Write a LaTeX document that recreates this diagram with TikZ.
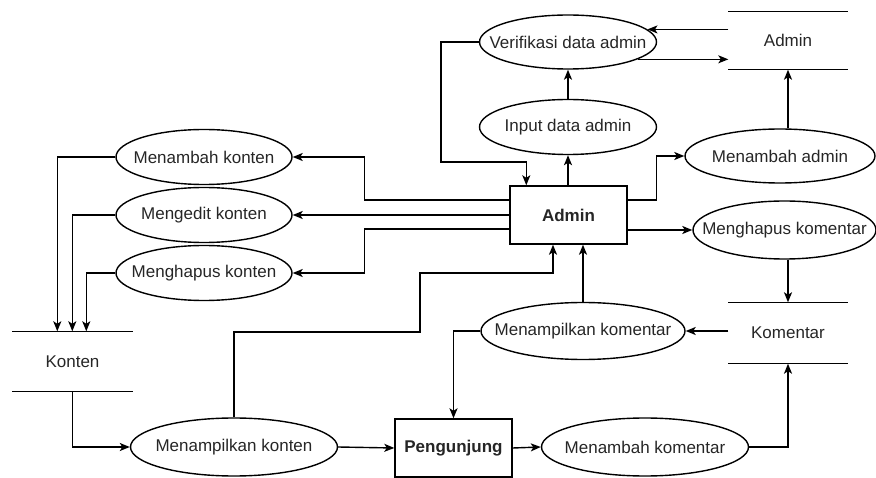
\documentclass[tikz,border=0pt]{standalone}
\usepackage{fontspec}
\setmainfont{Liberation Sans}
\usetikzlibrary{shapes.geometric,arrows.meta,calc}
\begin{document}
\begin{tikzpicture}[x=1pt,y=-1pt,
  line width=1.4pt,
  every node/.style={font=\fontsize{17}{20}\selectfont, text=black!85},
  proc/.style={ellipse, draw, inner xsep=-45pt, inner ysep=-12pt, minimum height=56pt},
  entity/.style={rectangle, draw, inner sep=0pt, minimum width=117pt, minimum height=58pt, font=\fontsize{17}{20}\selectfont\bfseries},
  store/.style={inner sep=0pt, minimum width=118pt},
  arr/.style={-{Stealth[length=10pt,width=8pt,inset=2.5pt]}}
]
\useasboundingbox (0,0) rectangle (876,478);

% external entities
\node[entity] (adm) at (568.5,215) {Admin};
\node[entity, minimum width=117pt] (pg) at (453.5,448) {Pengunjung};

% processes
\node[proc, minimum width=177pt, minimum height=54pt] (va) at (568,42) {Verifikasi data admin};
\node[proc, minimum width=177pt, minimum height=55pt] (ida) at (568,127) {Input data admin};
\node[proc, minimum width=190pt, minimum height=54pt] (ma) at (780,156) {Menambah admin};
\node[proc, minimum width=183pt, minimum height=58pt] (hk) at (784.5,230) {Menghapus komentar};
\node[proc, minimum width=204pt, minimum height=57pt] (mk) at (583,331) {Menampilkan komentar};
\node[proc, minimum width=176pt, minimum height=55pt] (mkt) at (204,157) {Menambah konten};
\node[proc, minimum width=176pt, minimum height=55pt] (med) at (204,215) {Mengedit konten};
\node[proc, minimum width=176pt, minimum height=55pt] (mhk) at (204,273) {Menghapus konten};
\node[proc, minimum width=207pt, minimum height=58pt] (mkon) at (234,447) {Menampilkan konten};
\node[proc, minimum width=207pt, minimum height=58pt] (mkm) at (645,447) {Menambah komentar};

% data stores
\node[store, minimum height=57pt] (sa) at (788,40.5) {Admin};
\node[store, minimum height=60pt] (sk) at (788,333) {Komentar};
\node[store, minimum height=59pt, minimum width=119pt] (kon) at (72.5,361.5) {Konten};
\foreach \s in {sa,sk,kon}{
  \draw (\s.north west) -- (\s.north east);
  \draw (\s.south west) -- (\s.south east);
}

% admin data flows
\draw[arr] (sa.west |- va.9.5) -- (va.9.5);
\draw[arr] (va.-14) -- (sa.west |- va.-14);
\draw[arr] (ida.north) -- (va.south);
\draw[arr] (adm.north -| ida.south) -- (ida.south);
\draw[arr] (va.west) -| (441,162) -| ($(adm.north west)+(17,0)$);
\draw[arr] ($(adm.east)+(0,-15)$) -| ($(ma.west)+(-28,0)$) -- (ma.west);
\draw[arr] (sa.south |- ma.north) -- (sa.south);
\draw[arr] ($(adm.east)+(0,15)$) -- (hk.west);
\draw[arr] (hk.south -| sk.north) -- (sk.north);

% content flows
\draw[arr] ($(adm.west)+(0,-15)$) -| ($(mkt.east)+(72,0)$) -- (mkt.east);
\draw[arr] (adm.west) -- (med.east);
\draw[arr] ($(adm.west)+(0,14)$) -| ($(mhk.east)+(72,0)$) -- (mhk.east);
\draw[arr] (mkt.west) -| ($(kon.north west)+(45,0)$);
\draw[arr] (med.west) -| ($(kon.north west)+(60,0)$);
\draw[arr] (mhk.west) -| ($(kon.north west)+(74,0)$);

% visitor flows
\draw[arr] (kon.south) |- (mkon.west);
\draw[arr] (mkon.east) -- (pg.west);
\draw[arr] (pg.east) -- (mkm.west);
\draw[arr] (mkm.east) -| (sk.south);
\draw[arr] (sk.west |- mk.east) -- (mk.east);
\draw[arr] (mk.west) -| (pg.north);
\draw[arr] (mk.north) -- (mk.north |- adm.south);
\draw[arr] (mkon.north) |- (420,332) |- (553,273) -- (adm.south -| 553,0);
\end{tikzpicture}
\end{document}
